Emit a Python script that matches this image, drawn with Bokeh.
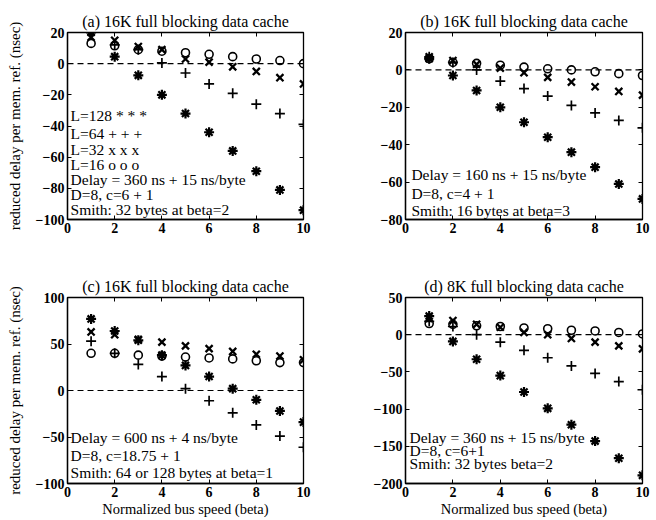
from bokeh.plotting import figure
from bokeh.models import Span, Label, LinearAxis, FixedTicker, CustomJSTickFormatter, Range1d
from bokeh.layouts import gridplot
from bokeh.embed import file_html
from bokeh.resources import INLINE

# ---------------- data ----------------
beta = [1, 2, 3, 4, 5, 6, 7, 8, 9, 10]
x_ticks = [0, 2, 4, 6, 8, 10]

# (a) 16K, Delay = 360 ns + 15 ns/byte
a_L128 = [20, 4.5, -7.5, -20, -32, -44, -56, -69, -81, -94]
a_L64 = [21, 12, 9, 0.5, -6, -13, -19, -26, -32, -39]
a_L32 = [17, 15, 11, 9, 3, 1, -2, -5, -9, -13]
a_L16 = [13, 11.5, 9, 8, 7, 6, 4.5, 3, 2, 0]
a_yticks = [-100, -80, -60, -40, -20, 0, 20]

# (b) 16K, Delay = 160 ns + 15 ns/byte
b_L128 = [6, -3, -11, -20, -28, -36, -44, -52, -61, -69]
b_L64 = [7, 4, 0, -6, -10, -14, -19, -23, -27, -31]
b_L32 = [7, 5, 3, 1, -1.5, -4, -6.5, -9, -11.5, -13.5]
b_L16 = [6, 4, 3.5, 2.5, 1.5, 0.6, 0, -1, -2, -3]
b_yticks = [-80, -60, -40, -20, 0, 20]

# (c) 16K, Delay = 600 ns + 4 ns/byte
c_L128 = [77, 64, 54, 38, 27, 15, 2, -10, -22, -34]
c_L64 = [53, 40, 28, 15, 2, -11, -24, -37, -49, -61]
c_L32 = [63, 60, 55, 52, 48, 45, 42, 39, 37, 33]
c_L16 = [40, 40, 38, 37, 36, 35, 34, 32, 30, 30]
c_yticks = [-100, -50, 0, 50, 100]

# (d) 8K, Delay = 360 ns + 15 ns/byte
d_L128 = [25, -9, -33, -55, -77, -99, -121, -143, -166, -189]
d_L64 = [18, 11, 0, -10, -21, -31, -42, -52, -63, -74]
d_L32 = [22, 19, 14, 10, 3, 0, -5, -10, -15, -19]
d_L16 = [15, 14, 12, 11, 9, 8, 6, 5, 3, 1]
d_yticks = [-200, -150, -100, -50, 0, 50]

titles = ["(a) 16K full blocking data cache", "(b) 16K full blocking data cache",
          "(c) 16K full blocking data cache", "(d) 8K full blocking data cache"]
y_label = "reduced delay per mem. ref. (nsec)"
x_label = "Normalized bus speed (beta)"

a_notes = ["L=128  * * *", "L=64  + + +", "L=32  x x x", "L=16  o o o",
           "Delay = 360 ns + 15 ns/byte", "D=8, c=6 + 1", "Smith: 32 bytes at beta=2"]
b_notes = ["Delay = 160 ns + 15 ns/byte", "D=8, c=4 + 1", "Smith: 16 bytes at beta=3"]
c_notes = ["Delay = 600 ns + 4 ns/byte", "D=8, c=18.75 + 1", "Smith: 64 or 128 bytes at beta=1"]
d_notes = ["Delay = 360 ns + 15 ns/byte", "D=8, c=6+1", "Smith: 32 bytes  beta=2"]

SERIF = "Liberation Serif"


def panel(title, ylo, yhi, yticks, s128, s64, s32, s16, notes, note_x, note_y,
          w, h, bl, br, bt, bb, show_y, show_x):
    p = figure(width=w, height=h, output_backend="svg", toolbar_location=None,
               x_range=Range1d(0, 10), y_range=Range1d(ylo, yhi),
               min_border_left=bl, min_border_right=br, min_border_top=bt,
               min_border_bottom=bb, background_fill_color="white",
               border_fill_color="white")
    p.title.text = title
    p.title.text_font = SERIF
    p.title.text_font_size = "16px"
    p.title.text_font_style = "normal"
    p.title.text_color = "black"
    p.title.align = "center"
    p.title.standoff = 6
    p.grid.visible = False
    p.outline_line_color = "black"
    p.outline_line_width = 1.3

    for ax in p.xaxis + p.yaxis:
        ax.major_tick_in = 4
        ax.major_tick_out = 0
        ax.minor_tick_line_color = None
        ax.axis_line_color = "black"
        ax.axis_line_width = 1.3
        ax.major_label_text_font = SERIF
        ax.major_label_text_font_size = "14px"
        ax.major_label_text_font_style = "bold"
        ax.major_label_text_color = "black"
        ax.axis_label_text_font = SERIF
        ax.axis_label_text_font_style = "normal"
        ax.axis_label_text_color = "black"
    p.xaxis.ticker = FixedTicker(ticks=x_ticks)
    p.yaxis.ticker = FixedTicker(ticks=yticks)
    p.xaxis.major_label_standoff = 3
    p.yaxis.major_label_standoff = 3
    if show_y:
        p.yaxis.axis_label = y_label
        p.yaxis.axis_label_text_font_size = "15px"
        p.yaxis.axis_label_standoff = 10
    if show_x:
        p.xaxis.axis_label = x_label
        p.xaxis.axis_label_text_font_size = "14.5px"
        p.xaxis.axis_label_standoff = 1

    blank = CustomJSTickFormatter(code="return ''")
    top = LinearAxis(ticker=FixedTicker(ticks=x_ticks), formatter=blank,
                     major_tick_in=4, major_tick_out=0, minor_tick_line_color=None,
                     major_label_standoff=0, axis_line_color="black")
    right = LinearAxis(ticker=FixedTicker(ticks=yticks), formatter=blank,
                       major_tick_in=4, major_tick_out=0, minor_tick_line_color=None,
                       major_label_standoff=0, axis_line_color="black")
    p.add_layout(top, "above")
    p.add_layout(right, "right")

    p.add_layout(Span(location=0, dimension="width", line_color="black",
                      line_width=1.2, line_dash="6 4"))

    p.scatter(beta, s16, marker="circle", size=8, fill_color=None,
              line_color="black", line_width=1.6)
    p.scatter(beta, s32, marker="x", size=10, line_color="black", line_width=2.3)
    p.scatter(beta, s64, marker="cross", size=10, line_color="black", line_width=1.7)
    p.scatter(beta, s128, marker="asterisk", size=10, line_color="black", line_width=2.2)

    for t, yy in zip(notes, note_y):
        p.add_layout(Label(x=note_x, y=yy, text=t, text_font=SERIF,
                           text_font_size="15.5px", text_baseline="middle",
                           text_color="black"))
    return p


pa = panel(titles[0], -100, 20, a_yticks, a_L128, a_L64, a_L32, a_L16, a_notes, 0.13,
           [-33.5, -44.6, -55, -64.7, -74.6, -84.1, -93.5], 328, 260, 67, 25, 32, 38, True, False)
pb = panel(titles[1], -80, 20, b_yticks, b_L128, b_L64, b_L32, b_L16, b_notes, 0.25,
           [-55.8, -66.1, -75.2], 328, 260, 75, 14, 30, 41, False, False)
pc = panel(titles[2], -100, 100, c_yticks, c_L128, c_L64, c_L32, c_L16, c_notes, 0.13,
           [-50.5, -70, -87.7], 328, 260, 67, 25, 37, 35, True, True)
pd = panel(titles[3], -200, 50, d_yticks, d_L128, d_L64, d_L32, d_L16, d_notes, 0.17,
           [-138.7, -156, -173.7], 328, 260, 77, 13, 33, 37, False, True)

grid = gridplot([[pa, pb], [pc, pd]], toolbar_location=None)

open("out.html", "w").write(file_html(grid, INLINE))
